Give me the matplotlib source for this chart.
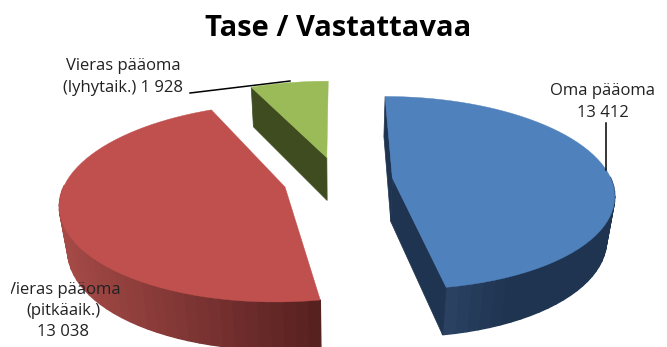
import numpy as np
import matplotlib
matplotlib.use("Agg")
import matplotlib.pyplot as plt
from matplotlib.patches import Rectangle

plt.rcParams['font.family'] = ['Open Sans', 'DejaVu Sans']

title = "Tase / Vastattavaa"
names = ["Oma pääoma", "Vieras pääoma (pitkäaik.)", "Vieras pääoma (lyhytaik.)"]
values = [13412, 13038, 1928]
top_colors = ["#4f81bd", "#c0504d", "#9bbb59"]
cut_colors = ["#1f3450", "#6b2a28", "#3f4c20"]

# projection of the pie plane to pixels
cx, cy = 338, 180
rx, ry = 219, 94.7
persp = 0.155
depth = 45
depth_w = 0.03
explode = 0.25


def project(u, v, low=False):
    w = 1 + persp * v
    if low:
        w = w + depth_w
        return cx + rx * u / w, cy - ry * v / w + depth / w
    return cx + rx * u / w, cy - ry * v / w


def mix(c1, c2, t):
    c1 = np.array(matplotlib.colors.to_rgb(c1))
    c2 = np.array(matplotlib.colors.to_rgb(c2))
    return c1 + (c2 - c1) * t


fig = plt.figure(figsize=(6.67, 3.47), dpi=100)
ax = fig.add_axes([0, 0, 1, 1])
ax.set_xlim(0, 667)
ax.set_ylim(347, 0)
ax.axis("off")

# angles go clockwise from 12 o'clock, like the spreadsheet pie
sweeps = 360 * np.array(values) / sum(values)
starts = 90 - np.concatenate([[0], np.cumsum(sweeps)[:-1]])
ends = starts - sweeps

# (back to front) green, red, blue
for i in [2, 1, 0]:
    mid = np.radians((starts[i] + ends[i]) / 2)
    ou, ov = explode * np.cos(mid), explode * np.sin(mid)
    ang = np.radians(np.linspace(starts[i], ends[i], 60))
    u = ou + np.cos(ang)
    v = ov + np.sin(ang)

    tx, ty = project(u, v)
    lx, ly = project(u, v, low=True)
    z = i * -3

    # outer rim, small quads so the shading can change along it
    # only the front part, the back is behind the top face
    if i != 2:
        for j in range(len(ang) - 1):
            if np.sin(ang[j]) > 0 and np.sin(ang[j + 1]) > 0:
                continue
            xm = (tx[j] + tx[j + 1]) / 2
            if i == 1:
                c = mix("#a54a47", "#55201f", np.clip((xm - 60) / 260, 0, 1))
            else:
                c = mix("#2b4264", "#1f3450", np.clip((xm - 447) / 60, 0, 1))
            ax.fill([tx[j], tx[j + 1], lx[j + 1], lx[j]],
                    [ty[j], ty[j + 1], ly[j + 1], ly[j]],
                    color=c, lw=1.0, zorder=z + 1)

    ax_, ay_ = project(ou, ov)
    bx_, by_ = project(ou, ov, low=True)

    # cut faces
    if i == 0:
        ax.fill([tx[0], ax_, bx_, lx[0]], [ty[0], ay_, by_, ly[0]],
                color=cut_colors[i], lw=0.5, zorder=z + 1)
        ax.fill([tx[-1], ax_, bx_, lx[-1]], [ty[-1], ay_, by_, ly[-1]],
                color=cut_colors[i], lw=0.5, zorder=z + 1)
    if i == 2:
        ax.fill([tx[0], ax_, bx_, lx[0]], [ty[0], ay_, by_, ly[0]],
                color=cut_colors[i], lw=0.5, zorder=z + 1)

    # top face
    ax.fill(np.r_[ax_, tx], np.r_[ay_, ty], color=top_colors[i], lw=0.3, zorder=z + 2)

# leader lines
ax.plot([190, 290], [93, 81], color="black", lw=1.1, zorder=5)
ax.plot([606, 606], [123, 170], color="black", lw=1.1, zorder=5)

# labels
txt = "#222222"
fmt = [f"{v:,}".replace(",", " ") for v in values]
ax.text(338, 28, title, ha="center", va="center", fontsize=21, fontweight="bold",
        color="black", zorder=6)
ax.text(603, 102, f"{names[0]}\n{fmt[0]}", ha="center", va="center", fontsize=12,
        color=txt, linespacing=1.45, zorder=6)
ax.text(123, 77, f"Vieras pääoma\n(lyhytaik.) {fmt[2]}", ha="center", va="center",
        fontsize=12, color=txt, linespacing=1.45, zorder=6)
t = ax.text(63, 311, f"Vieras pääoma\n(pitkäaik.)\n{fmt[1]}", ha="center", va="center",
            fontsize=12, color=txt, linespacing=1.45, zorder=6)
# the V is cut off at the left in the original
t.set_clip_on(True)
t.set_clip_path(Rectangle((11, 270), 200, 77, transform=ax.transData))

fig.savefig("out.png", dpi=100)
